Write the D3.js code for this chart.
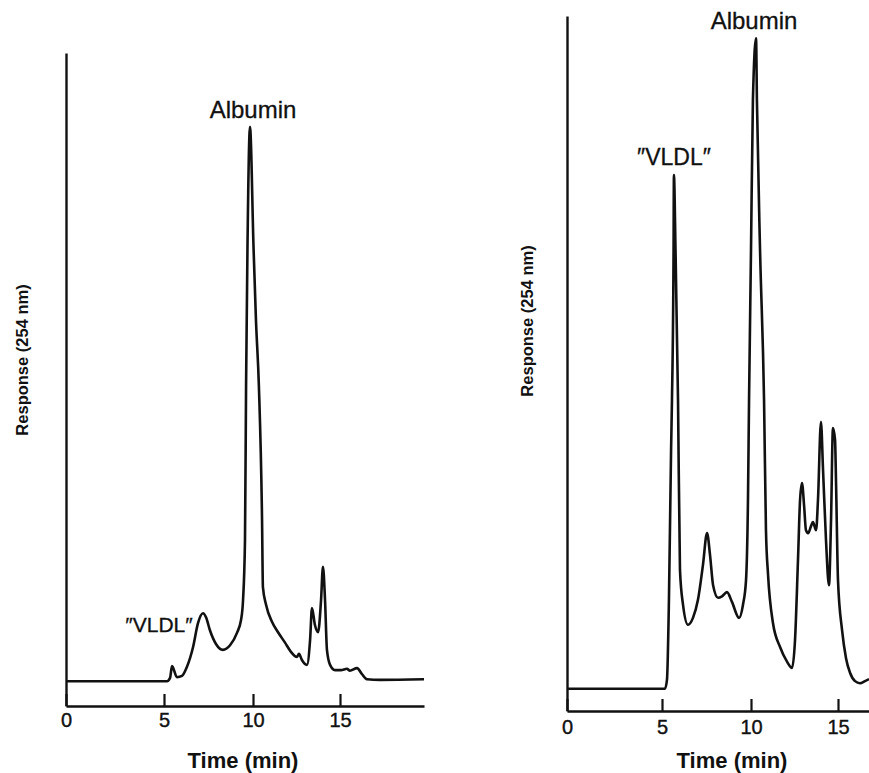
<!DOCTYPE html>
<html lang="en">
<head>
    <script src='https://d3js.org/d3.v7.min.js'></script>
    <style>
      body { margin: 0; background: #fff; }
      text { font-family: "Liberation Sans", Arial, Helvetica, sans-serif; fill: #111; }
    </style>
</head>
<body>
<script>
// left chromatogram (time in min, response in arbitrary units 0-100 of axis height)
var leftTime = [0, 5.17, 5.34, 5.45, 5.73, 6.01, 6.29, 6.63, 6.91, 7.19, 7.36, 7.58, 7.92, 8.31, 8.71, 9.10, 9.33, 9.44, 9.55, 9.61, 9.69, 9.83,
  10.03, 10.17, 10.34, 10.52, 10.57, 10.75, 11.09, 11.44, 11.84, 12.18, 12.53, 12.64, 12.82, 13.10, 13.28, 13.39, 13.56, 13.74, 13.91, 14.02,
  14.14, 14.25, 14.43, 14.71, 15.06, 15.40, 15.57, 15.98, 16.26, 16.55, 17.3, 19.83];
var leftResp = [3.8, 3.8, 4.3, 6.1, 4.4, 4.6, 6.0, 9.0, 12.7, 14.2, 13.6, 11.6, 9.5, 8.6, 9.3, 11.2, 13.2, 16.2, 25.4, 48.9, 70.3, 88.7,
  70.3, 59.1, 48.9, 28.5, 18.2, 15.5, 12.9, 11.3, 9.7, 8.3, 7.5, 8.0, 7.0, 6.3, 10.1, 15.0, 12.4, 11.3, 16.2, 21.3,
  16.2, 8.6, 6.3, 5.5, 5.5, 5.7, 5.4, 5.8, 4.9, 4.1, 4.0, 4.1];

// right chromatogram
var rightTime = [0, 5.17, 5.28, 5.39, 5.51, 5.56, 5.65, 5.67, 5.76, 5.90, 6.01, 6.18, 6.46, 6.74, 7.02, 7.30, 7.53, 7.70, 7.87, 8.15, 8.37,
  8.65, 8.93, 9.33, 9.55, 9.72, 9.83, 9.89, 10.0, 10.11, 10.29, 10.34, 10.52, 10.75, 10.86, 10.98, 11.26, 11.67, 12.07, 12.36, 12.53,
  12.70, 12.82, 12.93, 13.05, 13.16, 13.28, 13.45, 13.56, 13.74, 13.85, 14.02, 14.14, 14.31, 14.48, 14.60, 14.71, 14.83, 14.89, 15.0,
  15.23, 15.46, 15.69, 15.98, 16.26, 16.55, 16.78];
var rightResp = [3.2, 3.2, 4.5, 16.0, 37.6, 44.7, 66.3, 77.1, 66.3, 44.7, 20.3, 15.3, 12.4, 13.4, 16.0, 21.0, 25.6, 22.4, 18.1, 16.3, 16.5,
  17.1, 15.7, 13.4, 15.3, 18.8, 30.4, 44.7, 66.3, 87.9, 96.8, 87.9, 66.3, 44.7, 26.0, 19.6, 12.7, 9.2, 7.1, 6.2, 10.2,
  21.7, 30.4, 32.8, 29.6, 26.0, 25.6, 26.6, 27.2, 26.0, 30.4, 41.6, 34.7, 24.6, 18.1, 27.5, 40.7, 39.0, 32.5, 18.8,
  11.7, 7.6, 5.5, 4.3, 4.0, 4.3, 4.6];

var tickValues = [0, 5, 10, 15];
var tickLabels = ["0", "5", "10", "15"];

var width = 869, height = 773;

var svg = d3.select("body").append("svg")
  .attr("width", width)
  .attr("height", height);

var panels = [
  { time: leftTime, resp: leftResp,
    xDomain: [0, 5, 10, 15, 19.83], xRange: [66, 164, 253, 340, 424],
    yRange: [706, 53], pad: 7,
    titleX: 243, ylabX: 22, ylabY: 360,
    albumin: [253, 118, 24], vldl: [159, 632, 21] },
  { time: rightTime, resp: rightResp,
    xDomain: [0, 5, 10, 15, 16.78], xRange: [567, 662, 751, 838, 869],
    yRange: [711, 16], pad: 9,
    titleX: 732, ylabX: 527, ylabY: 321,
    albumin: [754, 29, 24], vldl: [674, 165, 23] }
];

panels.forEach(function(p) {
  var x = d3.scaleLinear().domain(p.xDomain).range(p.xRange);
  var y = d3.scaleLinear().domain([0, 100]).range(p.yRange);
  var g = svg.append("g");

  // x axis, ticks pointing up
  var xAxis = d3.axisBottom(x)
    .tickValues(tickValues)
    .tickFormat(function(d, i) { return tickLabels[i]; })
    .tickSizeInner(-12)
    .tickSizeOuter(0)
    .tickPadding(p.pad);
  var xg = g.append("g")
    .attr("transform", "translate(0," + y(0) + ")")
    .call(xAxis);
  xg.select(".domain").attr("stroke", "#111").attr("stroke-width", 2.6);
  xg.selectAll(".tick line").attr("stroke", "#111").attr("stroke-width", 2.2);
  xg.selectAll(".tick text")
    .attr("font-size", 20)
    .attr("font-family", "Liberation Sans, Arial, sans-serif")
    .attr("fill", "#111")
    .attr("stroke", "#111")
    .attr("stroke-width", 0.4);

  // y axis, no ticks
  var yg = g.append("g")
    .attr("transform", "translate(" + x(0) + ",0)")
    .call(d3.axisLeft(y).tickValues([]).tickSizeOuter(0));
  yg.select(".domain").attr("stroke", "#111").attr("stroke-width", 2.4);

  var line = d3.line()
    .x(function(d, i) { return x(p.time[i]); })
    .y(function(d) { return y(d); })
    .curve(d3.curveMonotoneX);

  g.append("path")
    .datum(p.resp)
    .attr("fill", "none")
    .attr("stroke", "#111")
    .attr("stroke-width", 2.6)
    .attr("stroke-linejoin", "round")
    .attr("d", line);

  g.append("text")
    .attr("x", p.titleX)
    .attr("y", 768)
    .attr("text-anchor", "middle")
    .attr("font-size", 22)
    .attr("font-weight", "bold")
    .text("Time (min)");

  g.append("text")
    .attr("transform", "translate(" + p.ylabX + "," + p.ylabY + ") rotate(-90)")
    .attr("text-anchor", "middle")
    .attr("dy", "0.35em")
    .attr("font-size", 16.5)
    .attr("font-weight", "bold")
    .text("Response (254 nm)");

  g.append("text")
    .attr("x", p.albumin[0])
    .attr("y", p.albumin[1])
    .attr("text-anchor", "middle")
    .attr("font-size", p.albumin[2])
    .attr("stroke", "#111")
    .attr("stroke-width", 0.3)
    .text("Albumin");

  g.append("text")
    .attr("x", p.vldl[0])
    .attr("y", p.vldl[1])
    .attr("text-anchor", "middle")
    .attr("font-size", p.vldl[2])
    .attr("stroke", "#111")
    .attr("stroke-width", 0.3)
    .text("\u2033VLDL\u2033");
});
</script>
</body>
</html>
